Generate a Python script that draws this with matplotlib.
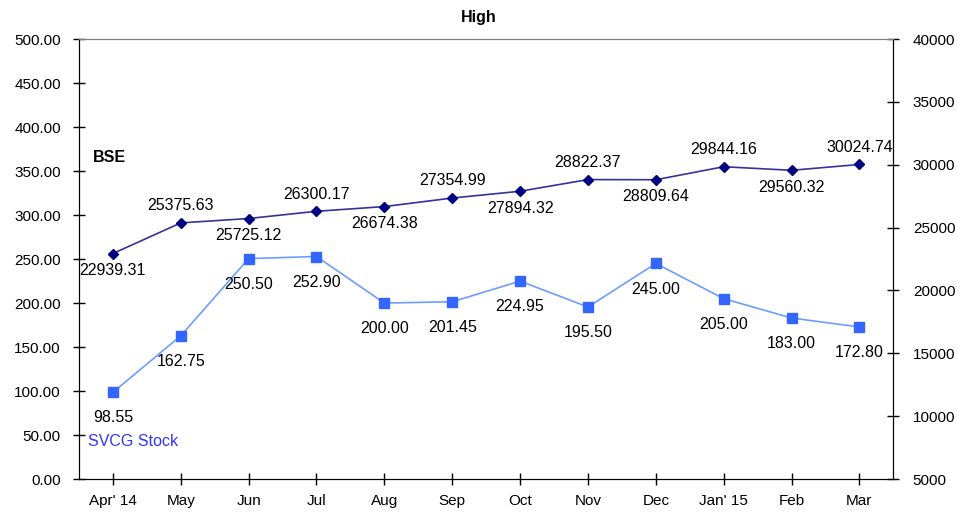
import matplotlib
matplotlib.use('Agg')
import matplotlib.pyplot as plt
import numpy as np

plt.rcParams['font.family'] = ['Liberation Sans', 'DejaVu Sans']

months = ['Apr\' 14', 'May', 'Jun', 'Jul', 'Aug', 'Sep', 'Oct', 'Nov',
          'Dec', 'Jan\' 15', 'Feb', 'Mar']
svcg = [98.55, 162.75, 250.50, 252.90, 200.00, 201.45, 224.95, 195.50,
        245.00, 205.00, 183.00, 172.80]
bse = [22939.31, 25375.63, 25725.12, 26300.17, 26674.38, 27354.99,
       27894.32, 28822.37, 28809.64, 29844.16, 29560.32, 30024.74]

x = np.arange(len(months))
fs = 11.5   # data labels
tfs = 11    # tick labels

fig = plt.figure(figsize=(9.57, 5.14), dpi=100)
ax = fig.add_axes([0.0825, 0.068, 0.851, 0.856])
ax2 = ax.twinx()

# svcg on the left axis
ax.plot(x, svcg, color='#6f9cff', lw=1.2, marker='s', ms=7,
        mfc='#3366ff', mec='#3366ff', zorder=3)
for i, v in enumerate(svcg):
    ax.annotate('%.2f' % v, (x[i], v), xytext=(0, -13), textcoords='offset points',
                ha='center', va='top', fontsize=fs)

# bse on the right axis, labels alternate below / above
ax2.plot(x, bse, color='#333399', lw=1.2, marker='D', ms=5,
         mfc='#000080', mec='#000080', zorder=3)
for i, v in enumerate(bse):
    if i % 2 == 0:
        ax2.annotate('%.2f' % v, (x[i], v), xytext=(0, -7), textcoords='offset points',
                     ha='center', va='top', fontsize=fs)
    else:
        ax2.annotate('%.2f' % v, (x[i], v), xytext=(0, 7), textcoords='offset points',
                     ha='center', va='bottom', fontsize=fs)

ax.set_xlim(-0.5, 11.5)
ax.set_ylim(0, 500)
ax.set_yticks(np.arange(0, 501, 50))
ax.set_yticklabels(['%.2f' % t for t in np.arange(0, 501, 50)], fontsize=tfs)
ax2.set_ylim(5000, 40000)
ax2.set_yticks(np.arange(5000, 40001, 5000))
ax2.set_yticklabels(['%d' % t for t in np.arange(5000, 40001, 5000)], fontsize=tfs)
ax.set_xticks(x)
ax.set_xticklabels(months, fontsize=tfs)

for a in (ax, ax2):
    a.tick_params(direction='inout', length=8, width=1, color='black')
    a.spines['top'].set_color('#808080')
ax.tick_params(axis='x', pad=7)
ax.tick_params(axis='y', pad=9)
ax2.tick_params(axis='y', pad=10)

ax.text(0.017, 0.73, 'BSE', transform=ax.transAxes, fontsize=fs, fontweight='bold',
        va='center')
ax.text(0.011, 0.086, 'SVCG Stock', transform=ax.transAxes, fontsize=fs,
        color='#3333ff', va='center')

fig.text(0.5, 0.965, 'High', ha='center', va='center', fontsize=11.5, fontweight='bold')

fig.savefig('out.png', dpi=100)
